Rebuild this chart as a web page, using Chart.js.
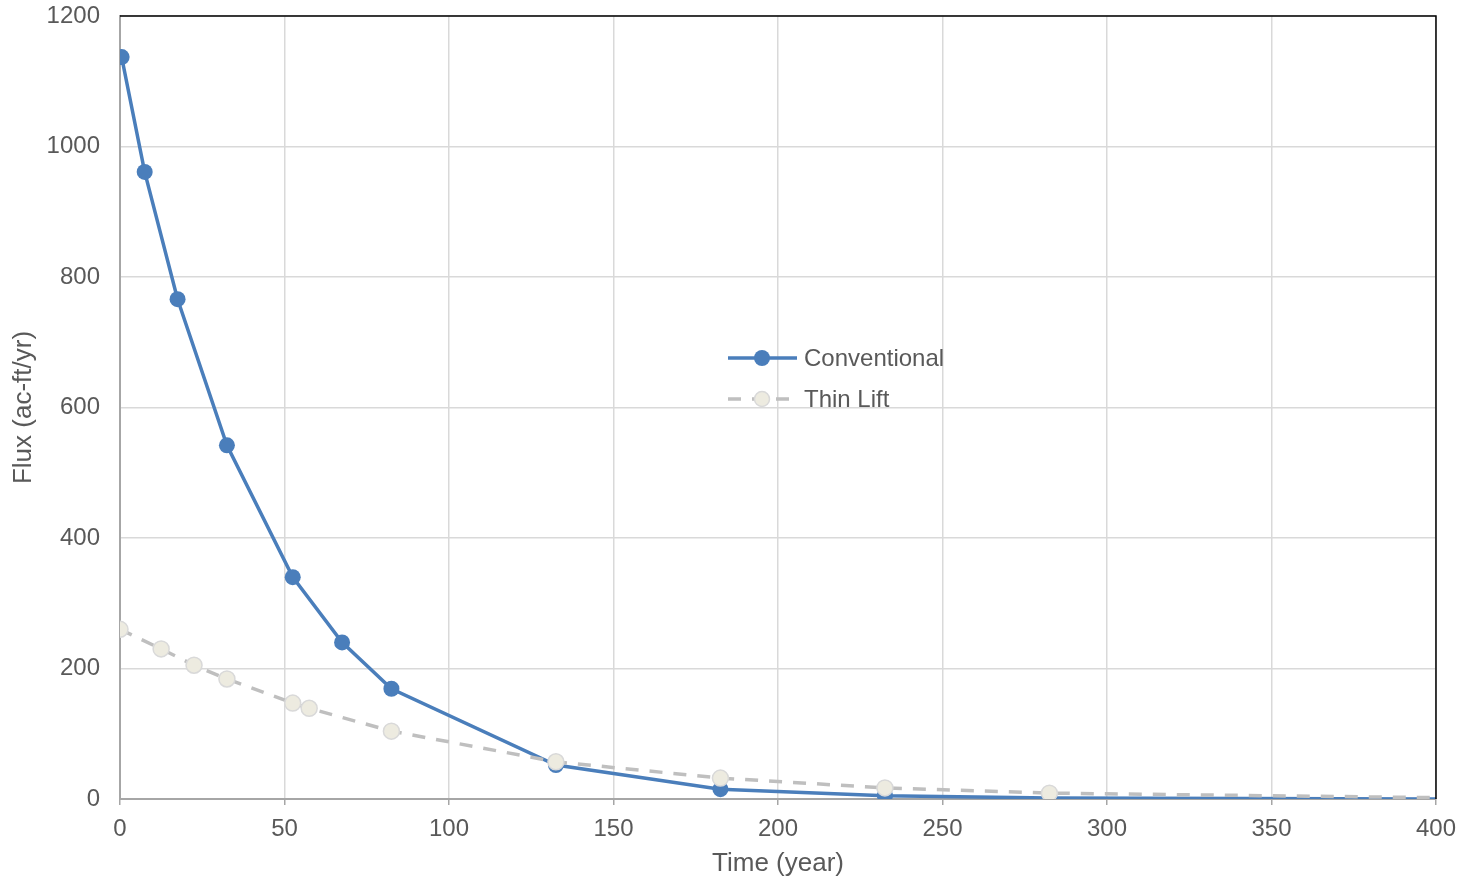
<!DOCTYPE html>
<html>
<head>
<meta charset="utf-8">
<script src="https://cdn.jsdelivr.net/npm/chart.js@4"></script>
<style>
  html, body { margin: 0; padding: 0; background: #fff; }
  #wrap { width: 1466px; height: 883px; }
</style>
</head>
<body>
<div id="wrap"><canvas id="fluxChart" width="1466" height="883"></canvas></div>
<script>
// series
const convTime = [0.5, 7.5, 17.5, 32.5, 52.5, 67.5, 82.5, 132.5, 182.5, 232.5, 282.5, 400];
const convFlux = [1137, 961, 766, 542, 340, 240, 169, 52, 15, 5, 1.5, 0];
const thinTime = [0, 12.5, 22.5, 32.5, 52.5, 57.5, 82.5, 132.5, 182.5, 232.5, 282.5, 400];
const thinFlux = [260, 230, 205, 184, 147, 139, 104, 57, 32, 17, 9, 2];
const seriesNames = ["Conventional", "Thin Lift"];

const toPoints = (xs, ys) => xs.map((x, i) => ({ x: x, y: ys[i] }));
// last point of each series is drawn as line end only (no marker)
const radii = (n, r) => Array.from({ length: n }, (_, i) => (i === n - 1 ? 0 : r));

const FONT = "'Liberation Sans', Arial, sans-serif";
const TXT = "#595959";

const frame = {
  id: "frame",
  afterDraw(chart) {
    const { ctx, chartArea: a } = chart;
    ctx.save();
    ctx.strokeStyle = "#000";
    ctx.lineWidth = 1.5;
    ctx.beginPath();
    ctx.moveTo(a.left, a.top);
    ctx.lineTo(a.right, a.top);
    ctx.lineTo(a.right, a.bottom);
    ctx.stroke();

    // legend inside plot
    const lx = 728, ly = [358, 399];
    ctx.font = "24px " + FONT;
    ctx.textBaseline = "middle";
    // conventional
    ctx.strokeStyle = "#4A7EBB";
    ctx.lineWidth = 3.5;
    ctx.setLineDash([]);
    ctx.beginPath();
    ctx.moveTo(lx, ly[0]);
    ctx.lineTo(lx + 69, ly[0]);
    ctx.stroke();
    ctx.fillStyle = "#4A7EBB";
    ctx.beginPath();
    ctx.arc(lx + 34, ly[0], 8, 0, Math.PI * 2);
    ctx.fill();
    ctx.fillStyle = TXT;
    ctx.fillText(seriesNames[0], lx + 76, ly[0] + 1);
    // thin lift
    ctx.strokeStyle = "#BFBFBF";
    ctx.lineWidth = 3.5;
    ctx.setLineDash([13, 11]);
    ctx.beginPath();
    ctx.moveTo(lx, ly[1]);
    ctx.lineTo(lx + 69, ly[1]);
    ctx.stroke();
    ctx.setLineDash([]);
    ctx.fillStyle = "#EDEBE0";
    ctx.strokeStyle = "#D9D9D9";
    ctx.lineWidth = 1.5;
    ctx.beginPath();
    ctx.arc(lx + 34, ly[1], 7.5, 0, Math.PI * 2);
    ctx.fill();
    ctx.stroke();
    ctx.fillStyle = TXT;
    ctx.fillText(seriesNames[1], lx + 76, ly[1] + 1);
    ctx.restore();
  }
};

new Chart(document.getElementById("fluxChart"), {
  type: "line",
  data: {
    datasets: [
      {
        label: seriesNames[1],
        data: toPoints(thinTime, thinFlux),
        borderColor: "#BFBFBF",
        borderWidth: 3.5,
        borderDash: [13, 11],
        pointRadius: radii(thinTime.length, 8),
        pointBackgroundColor: "#EDEBE0",
        pointBorderColor: "#D9D9D9",
        pointBorderWidth: 1.5,
        tension: 0,
        order: 1
      },
      {
        label: seriesNames[0],
        data: toPoints(convTime, convFlux),
        borderColor: "#4A7EBB",
        borderWidth: 3.5,
        pointRadius: radii(convTime.length, 8),
        pointBackgroundColor: "#4A7EBB",
        pointBorderColor: "#4A7EBB",
        pointBorderWidth: 0,
        tension: 0,
        order: 2
      }
    ]
  },
  options: {
    responsive: false,
    animation: false,
    layout: { padding: { top: 16, right: 30, left: 0, bottom: 0 } },
    plugins: { legend: { display: false }, tooltip: { enabled: false } },
    scales: {
      x: {
        type: "linear",
        min: 0,
        max: 400,
        afterFit(s) { s.height = 84; },
        ticks: { stepSize: 50, color: TXT, font: { family: FONT, size: 24 }, padding: 10, callback: v => String(v) },
        grid: { color: "#D9D9D9", lineWidth: 1.5, tickLength: 6, tickColor: "#A6A6A6" },
        border: { color: "#A6A6A6", width: 2 },
        title: { display: true, text: "Time (year)", color: TXT, font: { family: FONT, size: 26 }, padding: { top: 0 } }
      },
      y: {
        min: 0,
        max: 1200,
        afterFit(s) { s.width = 120; s.paddingTop = 0; s.paddingBottom = 0; },
        ticks: { stepSize: 200, color: TXT, font: { family: FONT, size: 24 }, padding: 20, callback: v => String(v) },
        grid: { color: "#D9D9D9", lineWidth: 1.5, drawTicks: false },
        border: { color: "#A6A6A6", width: 2 },
        title: { display: true, text: "Flux (ac-ft/yr)", color: TXT, font: { family: FONT, size: 26 }, padding: { top: 8, bottom: 0 } }
      }
    }
  },
  plugins: [frame]
});
</script>
</body>
</html>
